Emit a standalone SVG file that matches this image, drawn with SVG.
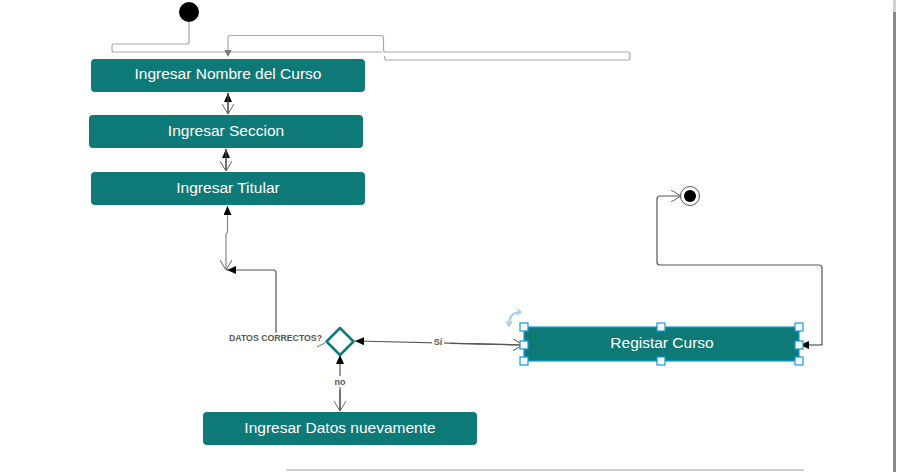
<svg xmlns="http://www.w3.org/2000/svg" width="897" height="472" viewBox="0 0 897 472">
<defs>
<style>
.box{fill:#0e7a78;}
.bt{fill:#ffffff;font-family:"Liberation Sans",Arial,sans-serif;font-size:15.5px;text-anchor:middle;}
.ln{fill:none;stroke:#555;stroke-width:1.2;}
.gl{fill:none;stroke:#a8a8a8;stroke-width:1.2;}
.lbl{fill:#555;font-family:"Liberation Sans",Arial,sans-serif;font-size:9px;font-weight:bold;}
.h{fill:#f4f8fb;stroke:#1a9ad6;stroke-width:1.2;}
</style>
<marker id="fa" markerWidth="10" markerHeight="10" refX="9" refY="4" orient="auto" markerUnits="userSpaceOnUse">
<path d="M0,0 L9,4 L0,8 Z" fill="#000"/>
</marker>
<marker id="oa" markerWidth="12" markerHeight="12" refX="10" refY="6" orient="auto" markerUnits="userSpaceOnUse">
<path d="M0,0 L10,6 L0,12" fill="none" stroke="#666" stroke-width="1"/>
</marker>
</defs>
<rect width="897" height="472" fill="#fff"/>

<g id="connectors">
<path class="gl" d="M189,22 V42 a2,2 0 0 1 -2,2 H114 a2,2 0 0 0 -2,2 v4 a2,2 0 0 0 2,2 H382"/>
<path class="gl" d="M228,52 V38 a2.5,2.5 0 0 1 2.5,-2.5 H381 a2.5,2.5 0 0 1 2.5,2.5 V50 a2,2 0 0 0 2,2 H628 a2,2 0 0 1 2,2 v4 a2,2 0 0 1 -2,2 H387 a2.5,2.5 0 0 1 -2.5,-2.5 V56"/>
<path d="M224.5,50 L231.5,50 L228,57 Z" fill="#777"/>
<path class="ln" d="M228,114 V93" marker-end="url(#fa)"/>
<path class="ln" d="M228,93 V114" marker-end="url(#oa)"/>
<path class="ln" d="M226,171 V149" marker-end="url(#fa)"/>
<path class="ln" d="M226,149 V171" marker-end="url(#oa)"/>
<path class="ln" d="M227.5,232 V206" marker-end="url(#fa)" style="stroke:#888"/>
<path class="ln" d="M227.5,232 L226,234 V270" marker-end="url(#oa)" style="stroke:#888"/>
<path class="ln" d="M276,333 V273 a3,3 0 0 0 -3,-3 H227" marker-end="url(#fa)"/>
<path d="M317,347 L325,343" fill="none" stroke="#444" stroke-width="0.8"/>
<path class="ln" d="M522,345 L355,341" marker-end="url(#fa)"/>
<path class="ln" d="M450,343.3 L523,345" marker-end="url(#oa)"/>
<path class="ln" d="M340,411 V355" marker-end="url(#fa)"/>
<path class="ln" d="M340,390 V411" marker-end="url(#oa)"/>
<path class="ln" d="M822,345 H800" marker-end="url(#fa)"/>
<path class="ln" d="M822,345 V268 a3,3 0 0 0 -3,-3 H660 a3,3 0 0 1 -3,-3 V199 a3,3 0 0 1 3,-3 H681" marker-end="url(#oa)"/>
<rect x="432" y="336" width="12" height="11" fill="#fff"/>
<text class="lbl" x="438" y="345" text-anchor="middle">Sí</text>
<rect x="333" y="376" width="15" height="11" fill="#fff"/>
<text class="lbl" x="340" y="385" text-anchor="middle">no</text>
</g>

<g id="start"><circle cx="189" cy="12" r="10" fill="#000"/></g>

<g id="n1"><rect class="box" x="91" y="59" width="274" height="33" rx="4"/><text class="bt" x="228" y="79">Ingresar Nombre del Curso</text></g>
<g id="n2"><rect class="box" x="89" y="115" width="274" height="33" rx="4"/><text class="bt" x="226" y="136">Ingresar Seccion</text></g>
<g id="n3"><rect class="box" x="91" y="172" width="274" height="33" rx="4"/><text class="bt" x="228" y="193">Ingresar Titular</text></g>

<g id="decision">
<path d="M340,328 L353.5,341.5 L340,355 L326.5,341.5 Z" fill="#fff" stroke="#0e7a78" stroke-width="2.5" stroke-linejoin="round"/>
<text class="lbl" x="229" y="341" textLength="93" lengthAdjust="spacingAndGlyphs">DATOS CORRECTOS?</text>
</g>

<g id="n4"><rect class="box" x="203" y="412" width="274" height="33" rx="4"/><text class="bt" x="340" y="433">Ingresar Datos nuevamente</text></g>

<g id="n5">
<rect class="box" x="524" y="327" width="275" height="34" stroke="#1a9ad6" stroke-width="1.2"/>
<text class="bt" x="662" y="348">Registar Curso</text>
<rect class="h" x="520" y="323" width="8" height="8"/>
<rect class="h" x="657" y="323" width="8" height="8"/>
<rect class="h" x="795" y="323" width="8" height="8"/>
<rect class="h" x="520" y="341" width="8" height="8"/>
<rect class="h" x="795" y="341" width="8" height="8"/>
<rect class="h" x="520" y="357" width="8" height="8"/>
<rect class="h" x="657" y="357" width="8" height="8"/>
<rect class="h" x="795" y="357" width="8" height="8"/>
<path d="M509,324 Q509,313 520,312" fill="none" stroke="#a9cdee" stroke-width="2"/>
<path d="M506,321 L509,326 L512,321" fill="none" stroke="#a9cdee" stroke-width="1.5"/>
<path d="M517,309 L521,312 L517,315" fill="none" stroke="#a9cdee" stroke-width="1.5"/>
</g>

<g id="end">
<circle cx="690" cy="196" r="9.5" fill="#fff" stroke="#555" stroke-width="1"/>
<circle cx="690" cy="196" r="6" fill="#000"/>
</g>

<line x1="286" y1="470" x2="804" y2="470" stroke="#d0d0d0" stroke-width="2"/>
<rect x="893" y="0" width="3" height="12" fill="#d0d0d0"/>
<rect x="893" y="12" width="3" height="460" fill="#8a8a8a"/>
</svg>
